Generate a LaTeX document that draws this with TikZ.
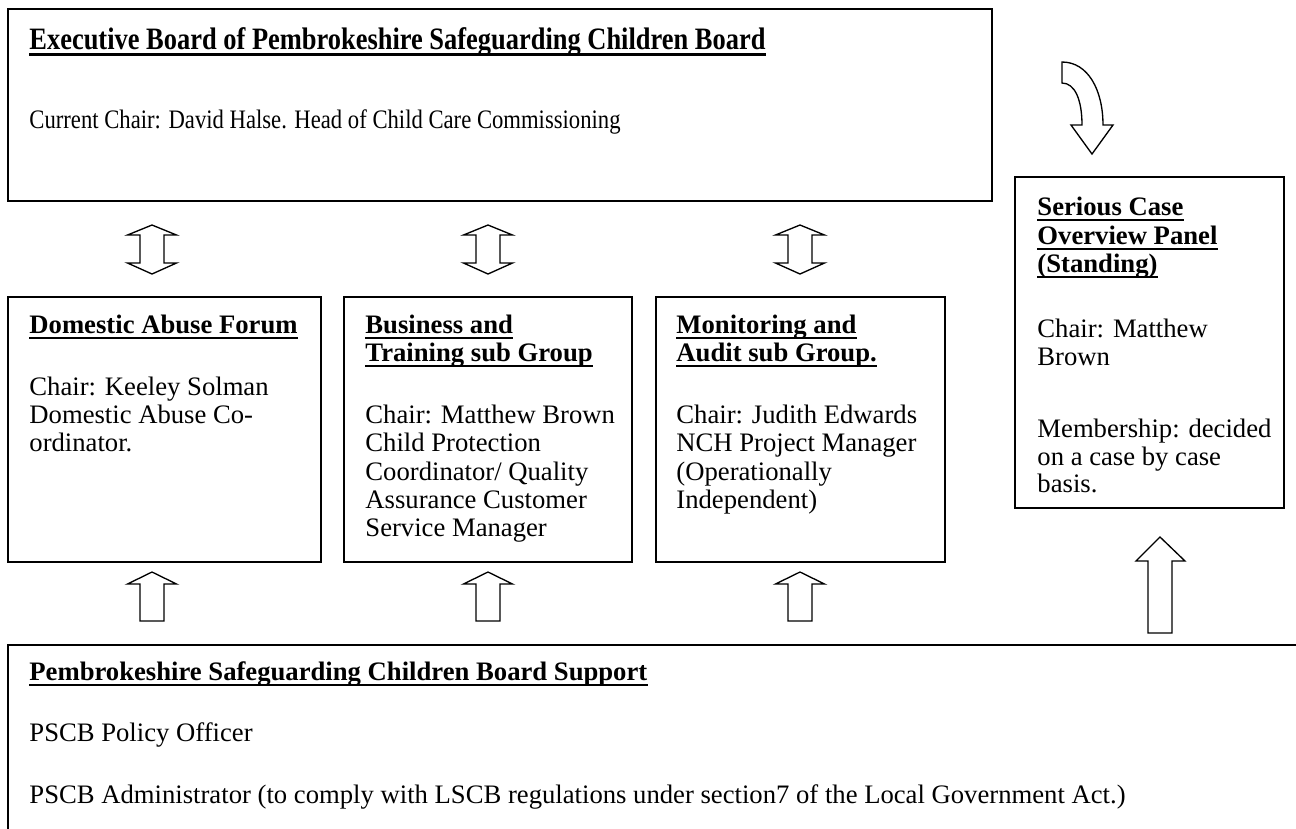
\documentclass[tikz,border=0pt]{standalone}
\usepackage{fontspec}
\setmainfont{Liberation Serif}
\newcommand{\hdline}[4]{%
  \node[hd] (#1) at (#2,#3) {#4};
  \draw[uline] ([yshift=-2.3pt]#1.base west) -- ([yshift=-2.3pt]#1.base east);}
\newcommand{\exline}[4]{%
  \node[txt] (#1) at (#2,#3) {#4};}
\begin{document}
\begin{tikzpicture}[x=0.45pt,y=-0.45pt,
  box/.style={draw=black,line width=0.65pt},
  blockarrow/.style={draw=black,line width=0.6pt,line join=miter},
  uline/.style={line width=1.1pt},
  txt/.style={anchor=base west,inner sep=0pt,font=\fontsize{12}{14}\selectfont},
  hd/.style={txt,font=\fontsize{12}{14}\selectfont\bfseries}]
\useasboundingbox (0,0) rectangle (1296,828);
% boxes
\draw[box] (8,9) rectangle (992,201);
\draw[box] (1015,177) rectangle (1284,508);
\draw[box] (8,297) rectangle (321,562);
\draw[box] (344,297) rectangle (632,562);
\draw[box] (656,297) rectangle (945,562);
\draw[box] (1310,645) -- (8,645) -- (8,840);
% executive board
\node[hd,font=\fontsize{14}{16}\selectfont\bfseries] (ex1) at (29,49) {\scalebox{0.85}[1]{Executive Board of Pembrokeshire Safeguarding Children Board}};
\draw[uline] ([yshift=-2.5pt]ex1.base west) -- ([yshift=-2.5pt]ex1.base east);
\node[txt] (ex2) at (29,128) {\scalebox{0.85}[1]{Current Chair: David Halse. Head of Child Care Commissioning}};
% domestic abuse
\hdline{da1}{29}{333}{Domestic Abuse Forum}
\exline{da2}{29}{395}{Chair: Keeley Solman}
\exline{da3}{29}{423}{Domestic Abuse Co-}
\exline{da4}{29}{451}{ordinator.}
% business
\hdline{bt1}{365}{333}{Business and}
\hdline{bt2}{365}{361}{Training sub Group}
\exline{bt3}{365}{423}{Chair: Matthew Brown}
\exline{bt4}{365}{451}{Child Protection}
\exline{bt5}{365}{480}{Coordinator/ Quality}
\exline{bt6}{365}{508}{Assurance Customer}
\exline{bt7}{365}{536}{Service Manager}
% monitoring
\hdline{ma1}{676}{333}{Monitoring and}
\hdline{ma2}{676}{361}{Audit sub Group.}
\exline{ma3}{676}{423}{Chair: Judith Edwards}
\exline{ma4}{676}{451}{NCH Project Manager}
\exline{ma5}{676}{480}{(Operationally}
\exline{ma6}{676}{508}{Independent)}
% serious case
\hdline{sc1}{1037}{215}{Serious Case}
\hdline{sc2}{1037}{244}{Overview Panel}
\hdline{sc3}{1037}{272}{(Standing)}
\exline{sc4}{1037}{337}{Chair: Matthew}
\exline{sc5}{1037}{365}{Brown}
\exline{sc6}{1037}{437}{Membership: decided}
\exline{sc7}{1037}{465}{on a case by case}
\exline{sc8}{1037}{492}{basis.}
% support
\hdline{su1}{29}{680}{Pembrokeshire Safeguarding Children Board Support}
\exline{su2}{29}{741}{PSCB Policy Officer}
\exline{su3}{29}{803}{PSCB Administrator (to comply with LSCB regulations under section7 of the Local Government Act.)}
% double arrows
\foreach \cx in {152,488,800}{
  \draw[blockarrow] (\cx,225) -- ({\cx+24.5},235) -- ({\cx+12},235) -- ({\cx+12},263)
    -- ({\cx+24.5},263) -- (\cx,274) -- ({\cx-24.5},263) -- ({\cx-12},263)
    -- ({\cx-12},235) -- ({\cx-24.5},235) -- cycle;
  \draw[blockarrow] (\cx,572) -- ({\cx+24.5},584) -- ({\cx+12},584) -- ({\cx+12},621)
    -- ({\cx-12},621) -- ({\cx-12},584) -- ({\cx-24.5},584) -- cycle;
}
% big up arrow
\draw[blockarrow] (1160,537) -- (1185,561) -- (1172,561) -- (1172,633) -- (1148,633)
  -- (1148,561) -- (1136,561) -- cycle;
% curved arrow
\draw[blockarrow] (1062,62) .. controls (1088,62) and (1103,90) .. (1103,125)
  -- (1113,125) -- (1092,154) -- (1071,125) -- (1082,125)
  .. controls (1082,100) and (1075,83) .. (1062,83) -- cycle;
\end{tikzpicture}
\end{document}
